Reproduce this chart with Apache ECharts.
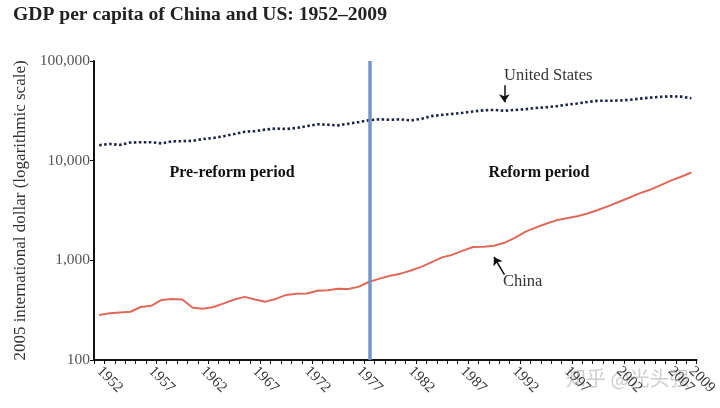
<!DOCTYPE html>
<html>
<head>
<meta charset="utf-8">
<script src="https://cdn.jsdelivr.net/npm/echarts@6/dist/echarts.min.js"></script>
<style>html,body{margin:0;padding:0;background:#fff}#c{width:720px;height:408px}</style>
</head>
<body>
<div id="c"></div>
<script>
const years = [];
for (let y = 1952; y <= 2009; y++) years.push(String(y));

const usGDP = [14300,14700,14400,15200,15300,15300,14900,15600,15700,15800,
  16500,16900,17600,18500,19500,19800,20500,21000,20800,21300,
  22200,23200,22900,22600,23500,24400,25500,26000,25700,26000,
  25300,26300,28000,28800,29500,30200,31200,32000,32300,31700,
  32300,32800,33800,34300,35200,36400,37500,38800,39900,39900,
  40100,40700,41900,42900,43700,44200,43900,42300];

const chinaGDP = [283,295,300,305,340,350,400,410,405,335,
  327,340,370,405,430,405,385,410,450,462,
  465,495,500,520,515,545,610,655,700,735,
  790,860,960,1070,1140,1250,1360,1365,1400,1500,
  1680,1930,2130,2330,2520,2650,2770,2950,3200,3500,
  3850,4250,4700,5100,5650,6300,6900,7600];

const yTicks = [100, 1000, 10000, 100000];
const reformYear = '1978';
const lastYear = '2009';

const serif = '"Liberation Serif", "DejaVu Serif", serif';
const labelStyle = {rotate: -45, fontFamily: serif, fontSize: 15, color: '#333', margin: 9, hideOverlap: false};
const chart = echarts.init(document.getElementById('c'));
chart.setOption({
  animation: false,
  backgroundColor: '#fff',
  title: {
    text: 'GDP per capita of China and US: 1952\u20132009',
    left: 8, top: 0,
    textStyle: {fontFamily: serif, fontSize: 19.6, fontWeight: 'bold', color: '#222'}
  },
  grid: {left: 94, right: 19, top: 61, bottom: 48},
  xAxis: [
    {
      type: 'category',
      data: years,
      boundaryGap: true,
      axisLine: {lineStyle: {color: '#111', width: 2}},
      axisTick: {show: true, interval: 0, length: 4, lineStyle: {color: '#111', width: 1}},
      axisLabel: Object.assign({}, labelStyle, {
        interval: (i) => i % 5 === 0
      }),
      splitLine: {show: false}
    },
    {
      type: 'category',
      data: years,
      position: 'bottom',
      boundaryGap: true,
      axisLine: {show: false},
      axisTick: {show: false},
      axisLabel: Object.assign({}, labelStyle, {
        interval: (i, v) => v === lastYear,
        showMaxLabel: true
      }),
      splitLine: {show: false}
    }
  ],
  yAxis: {
    type: 'log', logBase: 10, min: yTicks[0], max: yTicks[yTicks.length - 1],
    name: '2005 international dollar (logarithmic scale)',
    nameLocation: 'middle', nameGap: 62, nameRotate: 90,
    nameTextStyle: {fontFamily: serif, fontSize: 17, color: '#333'},
    axisLine: {show: true, lineStyle: {color: '#111', width: 2}},
    axisTick: {show: true, length: 4, lineStyle: {color: '#111'}},
    axisLabel: {
      fontFamily: serif, fontSize: 15.5, color: '#555', margin: 4,
      formatter: v => Number(v).toLocaleString('en-US')
    },
    splitLine: {show: false}
  },
  series: [
    {
      name: 'United States', type: 'line', data: usGDP, symbol: 'none',
      lineStyle: {color: '#1c2448', width: 2.6, type: [2.5, 2.5]},
      markLine: {
        silent: true, symbol: ['none', 'arrow'], symbolSize: 8,
        label: {show: false},
        lineStyle: {color: '#111', width: 1.5, type: 'solid'},
        data: [
          [{coord: ['1991', 57000]}, {coord: ['1991', 38500]}],
          [{coord: ['1991', 720]}, {coord: ['1990', 1080]}]
        ]
      },
      z: 3
    },
    {
      name: 'China', type: 'line', data: chinaGDP, symbol: 'none',
      lineStyle: {color: '#e06a5a', width: 2},
      markLine: {
        silent: true, symbol: ['none', 'none'],
        label: {show: false},
        lineStyle: {color: '#6d8fc4', width: 3.5, type: 'solid', opacity: 0.95},
        data: [{xAxis: reformYear}]
      },
      z: 2
    }
  ],
  graphic: [
    {type: 'text', x: 232, y: 173, style: {text: 'Pre-reform period', fill: '#111', font: 'bold 16px ' + serif, textAlign: 'center', textVerticalAlign: 'middle'}},
    {type: 'text', x: 539, y: 173, style: {text: 'Reform period', fill: '#111', font: 'bold 16px ' + serif, textAlign: 'center', textVerticalAlign: 'middle'}},
    {type: 'text', x: 504, y: 76, style: {text: 'United States', fill: '#333', font: '16.5px ' + serif, textAlign: 'left', textVerticalAlign: 'middle'}},
    {type: 'text', x: 503, y: 282, style: {text: 'China', fill: '#333', font: '16.5px ' + serif, textAlign: 'left', textVerticalAlign: 'middle'}},
    {type: 'text', x: 566, y: 378, style: {text: '知乎 @光头强', fill: 'rgba(190,190,190,0.75)', font: '20px "Noto Sans CJK SC", sans-serif', textAlign: 'left', textVerticalAlign: 'middle'}}
  ]
});
</script>
</body>
</html>
